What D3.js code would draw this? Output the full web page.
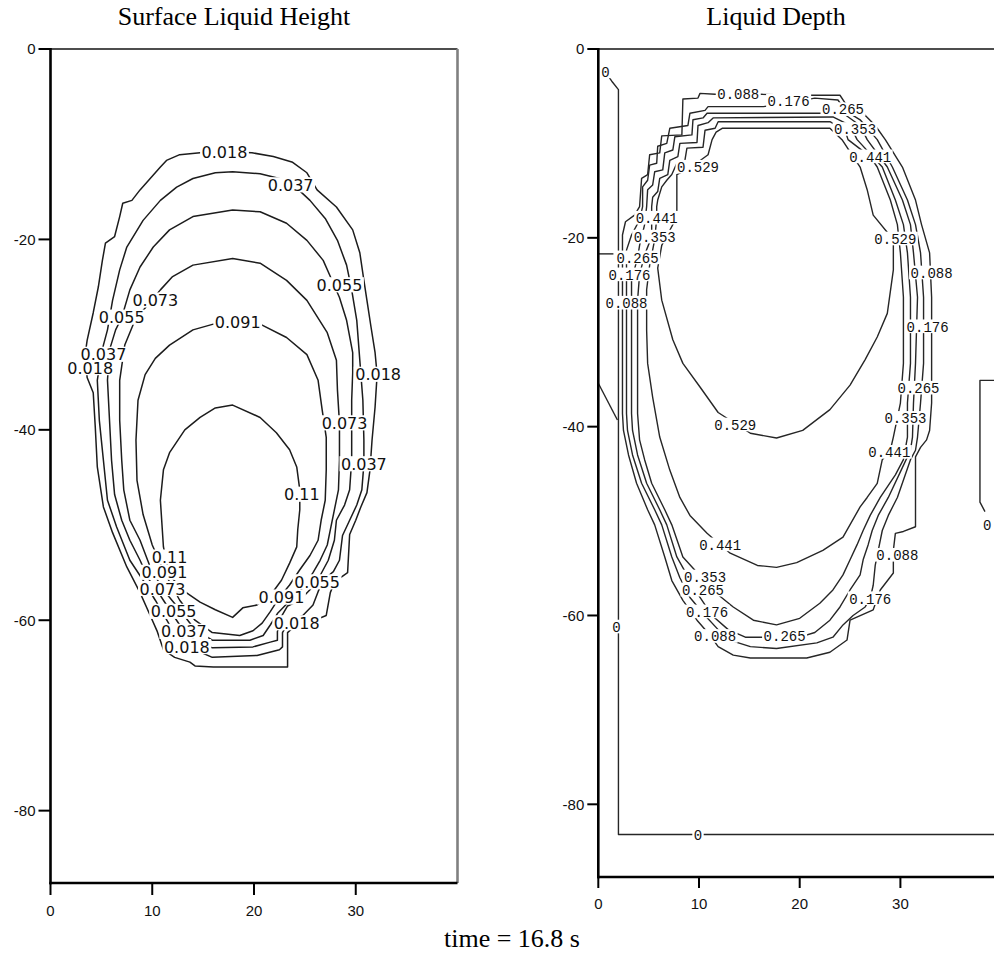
<!DOCTYPE html>
<html>
<head>
<meta charset="utf-8">
<script src="https://cdn.jsdelivr.net/npm/d3@7"></script>
<style>
  html, body { margin: 0; padding: 0; background: #fff; }
  svg { display: block; }
</style>
</head>
<body>
<svg id="chart" width="994" height="953"></svg>
<script>
// ---------- shared axis ticks ----------
const xTicks = [0, 10, 20, 30];
const yTicks = [0, -20, -40, -60, -80];

// ---------- Surface Liquid Height: contour lines, [x, y] in grid units ----------
const h018 = [[17.1,-10.8],[19.8,-10.9],[21.9,-11.3],[23.8,-11.9],[25.2,-13.0],[26.2,-14.8],[28.1,-16.6],[29.7,-19.0],[30.4,-21.4],[30.8,-24.3],[31.1,-26.4],[31.5,-29.2],[31.9,-31.9],[32.1,-34.2],[31.9,-37.6],[31.6,-41.1],[31.4,-44.2],[31.1,-46.6],[30.5,-48.1],[30.0,-49.5],[29.4,-51.0],[29.2,-55.0],[28.4,-55.6],[27.8,-56.3],[27.5,-57.1],[27.1,-59.5],[25.5,-60.2],[24.0,-60.6],[23.3,-61.3],[23.3,-64.9],[16.0,-64.9],[14.2,-64.8],[13.7,-64.4],[12.2,-63.9],[11.1,-63.1],[10.5,-61.2],[9.8,-59.5],[8.8,-57.1],[7.5,-54.4],[6.1,-50.8],[5.2,-48.1],[4.6,-43.9],[4.4,-39.7],[4.2,-36.1],[3.6,-34.5],[3.4,-32.1],[3.6,-30.6],[4.2,-27.7],[4.7,-25.0],[5.1,-22.2],[5.4,-20.4],[6.3,-19.7],[6.8,-17.6],[7.1,-16.2],[8.0,-15.9],[8.8,-14.8],[9.8,-13.6],[10.8,-12.4],[11.4,-11.7],[12.7,-11.1],[14.7,-10.9]];
const h037 = [[17.9,-12.9],[20.6,-13.1],[22.5,-13.6],[24.0,-14.4],[25.5,-15.9],[27.0,-17.8],[28.2,-20.1],[29.1,-22.7],[29.6,-25.3],[30.1,-28.5],[30.4,-32.7],[30.7,-36.9],[30.8,-41.1],[30.8,-43.6],[30.6,-46.3],[30.1,-47.9],[29.4,-49.5],[28.7,-51.1],[28.4,-53.7],[27.8,-54.9],[26.8,-55.8],[26.3,-57.0],[25.8,-58.4],[24.8,-59.5],[23.5,-60.0],[22.8,-61.3],[22.8,-62.8],[22.5,-63.1],[20.3,-63.7],[15.9,-63.9],[14.2,-63.1],[13.1,-62.1],[11.7,-60.5],[10.3,-57.9],[9.1,-55.8],[7.8,-53.7],[6.5,-50.2],[5.6,-47.4],[5.2,-43.2],[4.8,-39.0],[4.6,-34.8],[4.9,-32.7],[5.2,-31.1],[5.6,-29.5],[6.1,-26.4],[6.8,-23.2],[7.5,-20.8],[9.1,-18.0],[10.8,-15.9],[12.4,-14.5],[14.0,-13.6],[16.2,-13.0]];
const h055 = [[17.9,-16.9],[20.6,-17.1],[23.2,-18.3],[25.2,-20.1],[26.8,-22.2],[27.5,-23.9],[28.4,-26.1],[29.1,-28.5],[29.7,-31.9],[29.7,-34.0],[29.6,-36.9],[29.6,-40.0],[29.6,-43.2],[29.4,-46.3],[28.9,-47.9],[28.1,-49.5],[27.9,-51.6],[27.3,-53.7],[26.5,-55.3],[25.5,-56.8],[24.5,-57.9],[23.3,-58.5],[22.7,-59.6],[22.3,-61.2],[22.3,-62.1],[21.6,-62.3],[19.9,-62.8],[15.9,-62.9],[14.2,-62.1],[12.7,-60.5],[11.7,-58.9],[10.8,-57.4],[9.6,-55.6],[8.8,-53.7],[7.8,-51.6],[7.0,-49.5],[6.3,-46.8],[6.0,-43.2],[5.8,-39.0],[5.6,-34.8],[5.8,-31.6],[6.4,-29.5],[7.0,-28.2],[7.8,-25.3],[8.8,-22.9],[10.1,-20.8],[11.7,-19.0],[14.0,-17.6]];
const h073 = [[17.9,-22.0],[20.6,-22.5],[23.2,-24.3],[25.2,-26.4],[27.2,-29.8],[28.1,-32.7],[28.2,-35.8],[28.4,-39.3],[28.4,-43.2],[28.3,-46.3],[27.9,-48.4],[27.5,-50.5],[27.2,-52.1],[26.5,-53.7],[25.8,-55.0],[25.0,-56.3],[24.2,-57.4],[23.3,-58.2],[22.3,-59.3],[21.6,-60.5],[20.9,-61.6],[19.6,-62.1],[15.9,-62.1],[14.2,-61.0],[12.7,-58.9],[11.0,-56.7],[9.8,-54.4],[8.8,-51.6],[7.8,-49.5],[7.2,-46.3],[7.0,-43.2],[6.8,-39.0],[6.8,-34.8],[7.3,-31.1],[8.3,-28.5],[9.3,-27.2],[10.8,-25.3],[12.0,-23.9],[14.0,-22.7]];
const h091 = [[18.4,-28.7],[20.8,-29.0],[23.2,-30.3],[25.2,-32.1],[26.3,-34.8],[26.7,-37.9],[27.1,-40.8],[27.1,-44.2],[27.0,-47.4],[26.6,-49.5],[26.3,-51.6],[25.5,-53.2],[24.5,-54.7],[23.5,-56.3],[22.5,-57.6],[21.6,-59.1],[20.8,-60.3],[19.9,-61.1],[18.6,-61.6],[15.9,-61.3],[14.2,-60.0],[12.7,-57.9],[11.2,-55.0],[10.0,-52.1],[9.1,-48.9],[8.5,-45.3],[8.4,-41.1],[8.6,-36.9],[9.3,-34.2],[10.3,-32.5],[11.7,-31.1],[14.0,-29.5],[16.0,-28.9]];
const h110 = [[17.9,-37.4],[20.6,-38.7],[22.2,-40.3],[23.5,-42.1],[24.2,-43.9],[24.5,-46.3],[24.5,-48.4],[24.3,-50.5],[24.2,-52.3],[23.5,-54.0],[22.7,-55.8],[21.6,-57.4],[20.3,-58.4],[18.9,-58.7],[17.9,-59.7],[16.2,-58.9],[14.7,-58.1],[13.2,-57.0],[11.7,-55.3],[11.1,-52.3],[10.8,-47.4],[11.1,-44.2],[11.7,-42.4],[13.2,-40.0],[14.7,-38.7],[16.2,-37.7]];
const heightLines = [h018, h037, h055, h073, h091, h110];

// label text, x, y (where the label sits on its contour)
const heightLabels = [
  ["0.018",17.1,-10.8],["0.018",3.9,-33.5],["0.018",32.2,-34.2],["0.018",24.2,-60.3],
  ["0.037",23.6,-14.3],["0.037",5.2,-32.1],["0.037",30.8,-43.6],
  ["0.055",28.4,-24.8],["0.055",7.0,-28.2],["0.055",26.2,-56.0],
  ["0.073",10.3,-26.4],["0.073",28.9,-39.3],
  ["0.091",18.4,-28.7],["0.091",22.7,-57.6],
  ["0.11",24.7,-46.8],
  ["0.11",11.7,-53.4],["0.091",11.2,-55.0],["0.073",11.0,-56.7],["0.055",12.1,-59.1],["0.037",13.1,-61.2],["0.018",13.4,-62.8]
];

// ---------- Liquid Depth: contour lines ----------
const d000a = [[0.7,-2.4],[1.4,-3.5],[2.0,-4.3],[2.0,-83.2],[40,-83.2]];
const d000b = [[0,-35.4],[1.9,-39.3]];
const d000c = [[0,-21.7],[1.5,-21.7]];
const d088 = [[10.1,-4.7],[11.6,-4.8],[16.1,-4.8],[20.0,-4.9],[24.0,-4.9],[24.5,-5.7],[26.2,-6.7],[27.5,-8.1],[28.5,-9.6],[30.2,-12.5],[31.5,-16.0],[32.1,-18.6],[32.9,-21.6],[33.1,-26.3],[33.1,-33.3],[33.1,-37.5],[32.9,-40.4],[32.6,-41.4],[32.0,-42.2],[31.5,-43.2],[31.5,-50.6],[30.3,-51.1],[29.5,-51.3],[29.3,-53.1],[29.3,-55.5],[28.0,-57.3],[27.3,-59.4],[25.0,-60.5],[24.7,-62.6],[23.0,-63.9],[20.7,-64.5],[15.1,-64.5],[13.4,-64.2],[11.9,-63.3],[11.1,-62.1],[9.8,-60.5],[8.4,-58.4],[7.3,-56.3],[6.6,-53.8],[5.6,-50.4],[4.9,-48.8],[3.8,-46.0],[3.0,-43.0],[2.5,-40.4],[2.4,-38.6],[2.4,-29.8],[2.4,-19.7],[2.7,-18.3],[3.6,-17.6],[4.1,-16.7],[4.3,-13.7],[4.9,-13.3],[5.1,-11.2],[6.1,-11.0],[6.3,-9.2],[8.3,-9.1],[8.4,-5.3],[9.9,-5.2]];
const d088r = [[40,-35.1],[37.9,-35.1],[37.9,-48.0],[38.4,-49.0]];
const d176 = [[10.9,-6.1],[16.4,-6.1],[19.0,-5.7],[21.5,-5.2],[23.8,-5.4],[24.5,-6.5],[26.0,-7.5],[27.7,-9.6],[29.2,-12.5],[30.7,-16.0],[31.5,-18.6],[32.0,-21.6],[32.3,-26.3],[32.3,-33.3],[32.0,-37.5],[31.7,-41.1],[31.5,-42.5],[31.0,-43.5],[29.7,-47.5],[28.8,-49.4],[28.2,-51.0],[27.8,-53.1],[27.5,-54.7],[27.3,-56.8],[27.0,-58.2],[26.5,-59.1],[25.3,-60.0],[24.3,-61.0],[23.3,-62.3],[21.7,-62.9],[17.7,-63.5],[15.1,-63.3],[13.6,-62.8],[11.9,-61.5],[10.6,-60.0],[9.1,-58.1],[8.1,-56.0],[7.3,-53.8],[6.3,-50.4],[5.6,-48.8],[4.3,-46.0],[3.4,-43.0],[2.9,-40.4],[2.8,-38.6],[2.8,-29.8],[2.8,-21.3],[3.3,-19.7],[4.1,-18.1],[4.4,-16.7],[4.4,-14.6],[4.9,-13.9],[5.1,-12.3],[5.8,-12.1],[5.9,-10.3],[6.8,-10.0],[7.1,-8.4],[8.9,-8.1],[9.1,-6.8],[10.6,-6.5]];
const d265 = [[10.8,-6.8],[24.3,-6.8],[26.0,-8.1],[26.7,-9.6],[28.7,-12.5],[30.2,-16.0],[31.0,-18.6],[31.3,-21.6],[31.7,-26.3],[31.5,-33.3],[31.3,-37.5],[31.2,-41.1],[31.0,-42.5],[30.3,-44.1],[28.8,-47.5],[27.8,-49.4],[27.2,-51.0],[26.8,-52.5],[26.3,-54.1],[26.0,-55.7],[25.0,-57.3],[24.0,-59.1],[23.0,-60.5],[21.5,-61.8],[20.0,-62.3],[16.4,-62.3],[14.6,-62.3],[12.9,-61.5],[11.3,-60.0],[9.8,-57.6],[8.8,-55.7],[7.8,-53.8],[6.8,-50.4],[6.1,-48.8],[4.8,-46.0],[3.9,-43.0],[3.4,-40.4],[3.3,-38.6],[3.3,-24.5],[3.9,-22.1],[4.1,-20.8],[4.6,-18.6],[4.8,-16.7],[4.9,-14.9],[5.4,-14.4],[5.6,-13.0],[6.4,-12.8],[6.6,-11.0],[7.4,-10.7],[7.6,-9.3],[9.3,-9.1],[9.4,-7.5],[10.4,-7.3]];
const d353 = [[11.4,-7.3],[23.3,-7.2],[25.0,-8.1],[25.7,-9.6],[28.2,-12.5],[29.5,-16.0],[30.3,-18.6],[30.7,-21.6],[31.0,-26.3],[31.0,-33.3],[30.7,-37.5],[30.7,-41.1],[30.3,-43.5],[29.5,-45.1],[28.0,-47.5],[27.0,-49.4],[26.3,-51.0],[25.7,-52.5],[25.0,-54.1],[24.3,-55.7],[23.3,-57.3],[22.0,-58.7],[20.0,-60.3],[17.7,-61.0],[15.4,-60.5],[13.4,-59.1],[11.9,-57.8],[10.6,-56.3],[9.6,-55.2],[8.4,-53.8],[7.3,-50.4],[6.6,-48.8],[5.3,-46.0],[4.6,-43.5],[4.1,-41.4],[3.9,-38.6],[3.9,-26.6],[4.1,-23.9],[4.6,-21.8],[5.3,-19.9],[5.3,-16.7],[5.4,-15.7],[5.9,-15.1],[6.1,-13.7],[6.9,-13.3],[7.1,-11.8],[7.9,-11.4],[8.1,-10.0],[9.8,-9.9],[9.9,-8.1],[10.9,-7.8]];
const d441 = [[11.9,-7.7],[23.0,-7.7],[24.5,-8.6],[24.8,-9.6],[27.0,-11.4],[27.7,-12.5],[29.0,-16.0],[29.7,-18.6],[30.0,-21.6],[30.3,-26.3],[30.3,-33.3],[30.0,-37.5],[29.3,-41.1],[29.0,-42.5],[28.2,-43.5],[27.7,-46.0],[26.7,-47.5],[26.0,-48.5],[24.3,-51.7],[22.3,-53.1],[19.7,-54.4],[17.7,-54.9],[15.8,-54.7],[13.1,-53.4],[12.1,-52.5],[10.8,-51.3],[9.1,-49.4],[8.1,-47.5],[7.1,-44.6],[6.1,-41.1],[5.4,-36.9],[4.9,-33.3],[4.8,-29.8],[4.8,-25.5],[5.1,-22.9],[5.6,-20.2],[5.8,-17.9],[5.8,-16.7],[5.9,-16.0],[6.3,-14.6],[6.8,-13.9],[7.3,-13.3],[7.8,-12.1],[8.6,-11.8],[8.8,-10.5],[10.4,-10.4],[10.6,-8.6],[11.6,-8.4]];
const d529 = [[12.3,-8.4],[23.0,-8.4],[24.2,-9.6],[26.0,-12.5],[26.7,-14.9],[27.3,-17.6],[29.3,-20.2],[29.3,-23.4],[28.7,-28.0],[27.7,-30.5],[26.5,-32.9],[25.0,-35.6],[23.0,-38.2],[20.3,-40.4],[17.7,-41.2],[15.1,-40.7],[11.9,-38.5],[10.1,-35.8],[8.4,-33.3],[7.4,-30.8],[6.3,-26.6],[5.9,-23.2],[6.3,-20.8],[7.1,-19.2],[7.8,-17.8],[7.8,-13.3],[9.1,-12.6],[10.9,-11.2],[11.3,-9.6],[11.7,-8.8]];
const depthClosed = [d088, d176, d265, d353, d441, d529];
const depthOpen = [d000a, d000b, d000c, d088r];

const depthLabels = [
  ["0",0.7,-2.4],["0",1.8,-61.2],["0",9.9,-83.2],
  ["0.088",13.9,-4.8],["0.088",33.1,-23.7],["0.088",29.7,-53.6],["0.088",40.3,-50.4],
  ["0.176",18.9,-5.5],["0.176",32.7,-29.4],["0.176",27.0,-58.2],
  ["0.265",24.3,-6.4],["0.265",31.8,-35.9],["0.265",18.5,-62.2],
  ["0.353",25.5,-8.5],["0.353",30.5,-39.1],
  ["0.441",27.0,-11.4],["0.441",28.9,-42.7],["0.441",12.1,-52.5],
  ["0.529",9.9,-12.5],["0.529",29.5,-20.1],["0.529",13.6,-39.8],
  ["0.441",5.8,-17.9],["0.353",5.6,-19.9],["0.265",3.9,-22.1],["0.176",3.1,-23.9],["0.088",2.8,-26.9],
  ["0.353",10.6,-55.9],["0.265",10.4,-57.3],["0.176",10.8,-59.6],["0.088",11.6,-62.2]
];

const svg = d3.select("#chart");

function drawPanel(cfg) {
  const x = d3.scaleLinear().domain([0, 40]).range(cfg.xRange);
  const y = d3.scaleLinear().domain([0, cfg.yMin]).range(cfg.yRange);
  const g = svg.append("g");
  const line = d3.line().x(d => x(d[0])).y(d => y(d[1]));
  const [x0, x1] = cfg.xRange, [y0, y1] = cfg.yRange;

  // top and right edges of the plot frame
  g.append("line").attr("x1", x0).attr("x2", x1).attr("y1", y0).attr("y2", y0)
    .attr("stroke", "#4d4d4d").attr("stroke-width", 2);
  g.append("line").attr("x1", x1).attr("x2", x1).attr("y1", y0).attr("y2", y1)
    .attr("stroke", "#808080").attr("stroke-width", 2.6);

  // contour lines
  cfg.closed.forEach(pts => {
    g.append("path").attr("d", line(pts) + "Z")
      .attr("fill", "none").attr("stroke", cfg.lineColor).attr("stroke-width", cfg.lineWidth)
      .attr("stroke-linejoin", "round");
  });
  (cfg.open || []).forEach(pts => {
    g.append("path").attr("d", line(pts))
      .attr("fill", "none").attr("stroke", cfg.lineColor).attr("stroke-width", cfg.lineWidth)
      .attr("stroke-linejoin", "round");
  });

  // contour labels on a white patch that breaks the line
  cfg.labels.forEach(([t, lx, ly]) => {
    const lg = g.append("g");
    const txt = lg.append("text")
      .attr("x", x(lx)).attr("y", y(ly)).attr("dy", "0.36em")
      .attr("text-anchor", "middle")
      .attr("font-family", cfg.labelFont).attr("font-size", cfg.labelSize)
      .attr("fill", "#111").text(t);
    const bb = txt.node().getBBox();
    const fs = cfg.labelSize;
    lg.insert("rect", "text")
      .attr("x", bb.x - 1.5).attr("width", bb.width + 3)
      .attr("y", y(ly) - 0.40 * fs - 1.5).attr("height", 0.76 * fs + 3)
      .attr("fill", "#fff");
  });

  // left and bottom axes
  g.append("line").attr("x1", x0).attr("x2", x0).attr("y1", y0 - 1).attr("y2", y1 + 1.2)
    .attr("stroke", "#000").attr("stroke-width", 2.6);
  g.append("line").attr("x1", x0 - 1.2).attr("x2", x1).attr("y1", y1).attr("y2", y1)
    .attr("stroke", "#000").attr("stroke-width", 2.6);

  const tickFont = "Liberation Sans, Arial, sans-serif";
  yTicks.forEach(t => {
    g.append("line").attr("x1", x0 - cfg.yTick).attr("x2", x0).attr("y1", y(t)).attr("y2", y(t))
      .attr("stroke", "#000").attr("stroke-width", 2);
    g.append("text").attr("x", x0 - cfg.yTick - 3).attr("y", y(t)).attr("dy", "0.36em")
      .attr("text-anchor", "end").attr("font-family", tickFont).attr("font-size", 15)
      .attr("fill", "#111").text(String(t));
  });
  xTicks.forEach(t => {
    g.append("line").attr("x1", x(t)).attr("x2", x(t)).attr("y1", y1).attr("y2", y1 + cfg.xTick)
      .attr("stroke", "#000").attr("stroke-width", 2);
    g.append("text").attr("x", x(t)).attr("y", y1 + cfg.xLabel).attr("dy", "0.36em")
      .attr("text-anchor", "middle").attr("font-family", tickFont).attr("font-size", 15)
      .attr("fill", "#111").text(String(t));
  });

  svg.append("text").attr("x", cfg.titleX).attr("y", 25)
    .attr("text-anchor", "middle").attr("font-family", "Liberation Serif, Times New Roman, serif")
    .attr("font-size", 26).attr("fill", "#000").text(cfg.title);
}

drawPanel({
  title: "Surface Liquid Height", titleX: 234,
  xRange: [50.5, 457.5], yRange: [49, 883], yMin: -87.6,
  closed: heightLines, labels: heightLabels,
  lineColor: "#1c1c1c", lineWidth: 1.5,
  labelFont: "DejaVu Sans, sans-serif", labelSize: 16,
  yTick: 12, xTick: 12, xLabel: 28
});

drawPanel({
  title: "Liquid Depth", titleX: 776,
  xRange: [598.3, 1001.1], yRange: [49, 877], yMin: -87.7,
  closed: depthClosed, open: depthOpen, labels: depthLabels,
  lineColor: "#262626", lineWidth: 1.4,
  labelFont: "Liberation Mono, Courier New, monospace", labelSize: 14,
  yTick: 11, xTick: 11, xLabel: 27
});

svg.append("text").attr("x", 512).attr("y", 947)
  .attr("text-anchor", "middle").attr("font-family", "Liberation Serif, Times New Roman, serif")
  .attr("font-size", 26).attr("fill", "#000").text("time = 16.8 s");
</script>
</body>
</html>
